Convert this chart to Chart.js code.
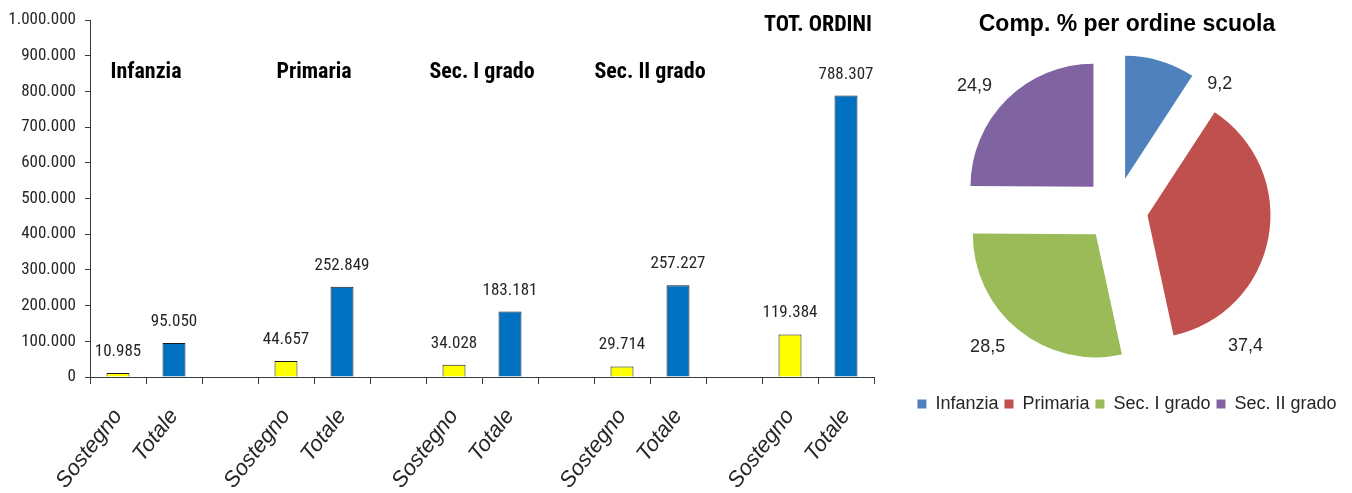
<!DOCTYPE html>
<html lang="it">
<head>
<meta charset="utf-8">
<title>Sostegno / Totale per ordine scuola</title>
<script src="https://cdn.jsdelivr.net/npm/chart.js@4.4.1/dist/chart.umd.min.js"></script>
<style>
    html, body { margin: 0; padding: 0; background: #fff; }
    body { width: 1352px; height: 493px; position: relative; overflow: hidden; }
    #barre { position: absolute; left: 0; top: 0; }
    #torta { position: absolute; left: 897px; top: 0; }
</style>
</head>
<body>
<canvas id="barre" width="900" height="493"></canvas>
<canvas id="torta" width="460" height="423"></canvas>
<script>
/*** DATI ***/
const ordini = ["Infanzia", "Primaria", "Sec. I grado", "Sec. II grado", "TOT. ORDINI"];
const sostegno = [10985, 44657, 34028, 29714, 119384];
const totale = [95050, 252849, 183181, 257227, 788307];
const yTicks = [0, 100000, 200000, 300000, 400000, 500000, 600000, 700000, 800000, 900000, 1000000];

const ordiniTorta = ["Infanzia", "Primaria", "Sec. I grado", "Sec. II grado"];
const compPerc = [9.2, 37.4, 28.5, 24.9];

/*** STILI ***/
const NARROW = "'Roboto Condensed', 'Liberation Sans Narrow', 'Arial Narrow', sans-serif";
const SANS = "'Liberation Sans', Arial, sans-serif";
const TESTO = "#262626";
const ASSE = "#3a3a3a";
const coloriTorta = ["#4F81BD", "#C0504D", "#9BBB59", "#8064A2"];

const fmt = n => String(n).replace(/\B(?=(\d{3})+(?!\d))/g, ".");

/* -------------------------------------------------------------
   CATEGORIE: Sostegno, Totale, (vuoto) per ogni ordine
-------------------------------------------------------------- */
const categorie = [];
const datiSost = [];
const datiTot = [];
ordini.forEach((o, i) => {
    categorie.push("Sostegno", "Totale");
    datiSost.push(sostegno[i], null);
    datiTot.push(null, totale[i]);
    if (i < ordini.length - 1) {
        categorie.push("");
        datiSost.push(null);
        datiTot.push(null);
    }
});

/* etichette valori + titoli di gruppo */
const etichetteBarre = {
    id: "etichetteBarre",
    afterDatasetsDraw(chart) {
        const ctx = chart.ctx;
        ctx.save();
        ctx.fillStyle = TESTO;
        ctx.textAlign = "center";
        ctx.textBaseline = "alphabetic";
        ctx.font = "17px " + NARROW;
        chart.data.datasets.forEach((ds, di) => {
            chart.getDatasetMeta(di).data.forEach((bar, j) => {
                const v = ds.data[j];
                if (v == null) return;
                ctx.fillText(fmt(v), bar.x, bar.y - 17);
            });
        });

        const x = chart.scales.x;
        ctx.fillStyle = "#000";
        ctx.font = "bold 22px " + NARROW;
        let k = 0;
        ordini.forEach((o, i) => {
            const cx = (x.getPixelForValue(k) + x.getPixelForValue(k + 1)) / 2;
            const last = i === ordini.length - 1;
            ctx.fillText(o, cx, last ? 31 : 78);
            k += 3;
        });
        ctx.restore();
    }
};

new Chart(document.getElementById("barre"), {
    type: "bar",
    data: {
        labels: categorie,
        datasets: [
            {
                label: "Sostegno",
                data: datiSost,
                backgroundColor: "#FFFF00",
                borderColor: "#1a1a1a",
                borderWidth: 1
            },
            {
                label: "Totale",
                data: datiTot,
                backgroundColor: "#0070C0",
                borderColor: "#1a1a1a",
                borderWidth: 1
            }
        ]
    },
    options: {
        responsive: false,
        animation: false,
        grouped: false,
        categoryPercentage: 1,
        barPercentage: 0.41,
        layout: { padding: { top: 20, right: 26, left: 0, bottom: 0 } },
        plugins: {
            legend: { display: false },
            tooltip: { enabled: false }
        },
        scales: {
            x: {
                offset: true,
                grid: {
                    offset: true,
                    drawOnChartArea: false,
                    tickLength: 7,
                    tickColor: ASSE
                },
                border: { color: ASSE, width: 1 },
                ticks: {
                    autoSkip: false,
                    minRotation: 52,
                    maxRotation: 52,
                    padding: 20,
                    color: TESTO,
                    font: { family: SANS, size: 22, style: "italic" }
                },
                afterFit(s) { s.height = 116; }
            },
            y: {
                min: 0,
                max: 1000000,
                afterBuildTicks(s) { s.ticks = yTicks.map(v => ({ value: v })); },
                grid: {
                    drawOnChartArea: false,
                    tickLength: 5,
                    tickColor: ASSE
                },
                border: { color: ASSE, width: 1 },
                ticks: {
                    padding: 9,
                    color: TESTO,
                    font: { family: NARROW, size: 17 },
                    callback: v => fmt(v)
                },
                afterFit(s) { s.width = 90; }
            }
        }
    },
    plugins: [etichetteBarre]
});

/* -------------------------------------------------------------
   TORTA ESPLOSA
-------------------------------------------------------------- */
const ESPLOSIONE = 32;
// centro della torta spostato rispetto a titolo e legenda
const SPOSTA_CENTRO = { dx: -11, dy: -3 };
// spostamento etichette: [gradi, raggio extra]
const spostaEtichette = [[23, -25], [36, 0], [4, 0], [-4, 0]];

const torta = {
    id: "torta",
    afterLayout(chart) {
        const a = chart.chartArea;
        a.left += SPOSTA_CENTRO.dx;
        a.right += SPOSTA_CENTRO.dx;
        a.top += SPOSTA_CENTRO.dy;
        a.bottom += SPOSTA_CENTRO.dy;
    },
    afterDatasetsUpdate(chart) {
        chart.getDatasetMeta(0).data.forEach(arc => {
            const mid = (arc.startAngle + arc.endAngle) / 2;
            arc.x += Math.cos(mid) * ESPLOSIONE;
            arc.y += Math.sin(mid) * ESPLOSIONE;
        });
    },
    afterDatasetsDraw(chart) {
        const ctx = chart.ctx;
        const a = chart.chartArea;
        const cx = (a.left + a.right) / 2;
        const cy = (a.top + a.bottom) / 2;
        ctx.save();
        ctx.fillStyle = TESTO;
        ctx.textAlign = "center";
        ctx.textBaseline = "middle";
        ctx.font = "18px " + SANS;
        chart.getDatasetMeta(0).data.forEach((arc, i) => {
            const [dg, dr] = spostaEtichette[i];
            const ang = (arc.startAngle + arc.endAngle) / 2 + dg * Math.PI / 180;
            const r = arc.outerRadius + ESPLOSIONE + 33 + dr;
            const txt = String(chart.data.datasets[0].data[i]).replace(".", ",");
            ctx.fillText(txt, cx + Math.cos(ang) * r, cy + Math.sin(ang) * r);
        });
        ctx.restore();
    }
};

new Chart(document.getElementById("torta"), {
    type: "pie",
    data: {
        labels: ordiniTorta,
        datasets: [{
            data: compPerc,
            backgroundColor: coloriTorta,
            borderWidth: 0,
            radius: 123,
            clip: false
        }]
    },
    options: {
        responsive: false,
        animation: false,
        layout: { padding: 0 },
        plugins: {
            tooltip: { enabled: false },
            title: {
                display: true,
                text: "Comp. % per ordine scuola",
                color: "#000",
                font: { family: SANS, size: 23, weight: "bold", lineHeight: 1 },
                padding: { top: 13, bottom: 0 }
            },
            legend: {
                position: "bottom",
                labels: {
                    boxWidth: 9,
                    boxHeight: 9,
                    padding: 6,
                    color: TESTO,
                    font: { family: SANS, size: 18 }
                }
            }
        }
    },
    plugins: [torta]
});
</script>
</body>
</html>
